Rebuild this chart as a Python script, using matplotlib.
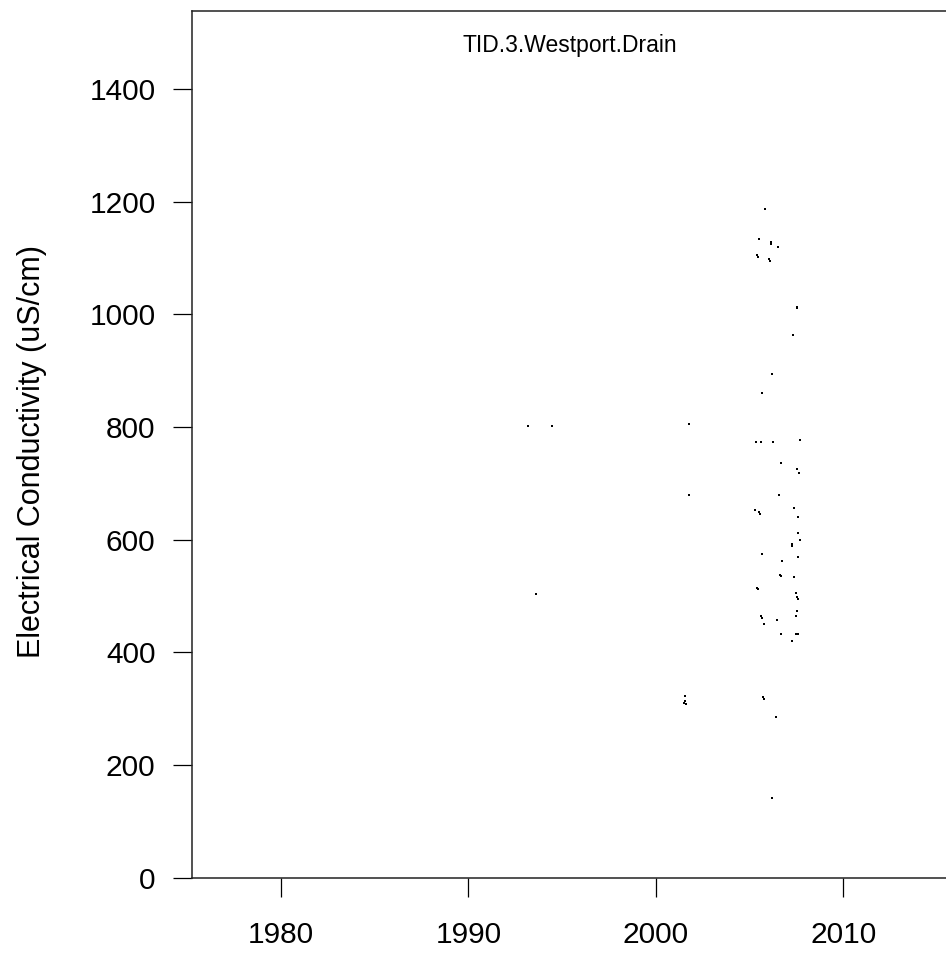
import matplotlib
matplotlib.use("Agg")
import matplotlib.pyplot as plt

# sample dates (decimal year) and conductivity readings
years = [
    1993.20, 1994.48, 1993.61,
    2001.79, 2001.76, 2001.56, 2001.50, 2001.62, 2001.57,
    2005.83, 2005.52, 2006.13, 2006.17, 2006.54, 2005.42, 2005.46,
    2006.04, 2006.08, 2007.52, 2007.55, 2007.34, 2006.18, 2005.68,
    2005.35, 2005.60, 2006.27, 2007.69, 2006.68, 2007.55, 2007.64,
    2006.59, 2007.37, 2005.29, 2005.52, 2005.55, 2007.60, 2007.60,
    2007.69, 2007.25, 2007.29, 2005.68, 2007.60, 2006.75, 2006.65,
    2006.69, 2007.37, 2005.42, 2005.46, 2007.48, 2007.55, 2007.58,
    2007.55, 2007.48, 2005.63, 2005.67, 2006.48, 2005.78, 2007.48,
    2007.56, 2006.68, 2007.29, 2005.74, 2005.78, 2006.41, 2006.18,
]
ec = [
    802, 802, 503,
    805, 680, 322, 311, 309, 313,
    1187, 1134, 1129, 1126, 1120, 1105, 1102,
    1098, 1095, 1014, 1012, 963, 894, 860,
    774, 774, 773, 777, 737, 725, 718,
    680, 657, 652, 649, 646, 640, 612,
    599, 592, 589, 575, 570, 563, 538,
    535, 534, 515, 512, 506, 498, 495,
    473, 464, 464, 461, 457, 450, 433,
    433, 433, 420, 320, 317, 285, 141,
]

station = "TID.3.Westport.Drain"
x_ticks = [1980, 1990, 2000, 2010]
y_ticks = [0, 200, 400, 600, 800, 1000, 1200, 1400]

plt.rcParams['font.family'] = ['Liberation Sans', 'DejaVu Sans']

fig = plt.figure(figsize=(9.46, 9.56), dpi=100)
ax = fig.add_axes([0.2033, 0.0819, 0.807, 0.9061])

ax.plot(years, ec, linestyle='none', marker='s', markersize=1.9,
        markeredgewidth=0, color='black')

ax.set_xlim(1975.27, 2016.0)
ax.set_ylim(0, 1538)
ax.set_xticks(x_ticks)
ax.set_yticks(y_ticks)
ax.tick_params(axis='both', direction='out', length=14, width=0.9,
               labelsize=21.5, color='black')
ax.tick_params(axis='x', pad=17)
ax.tick_params(axis='y', pad=12.5)
for side in ['left', 'bottom', 'top']:
    ax.spines[side].set_linewidth(1.1)
    ax.spines[side].set_color('#222222')
# the plot's right edge is cut off by the image border
ax.spines['right'].set_visible(False)

ax.text(0.4948, 0.9534, station, transform=ax.transAxes,
        ha='center', va='baseline', fontsize=16.5)
fig.text(32 / 946, 1 - 451 / 956, "Electrical Conductivity (uS/cm)",
         rotation=90, ha='center', va='center', fontsize=22)

fig.savefig("out.png", dpi=100)
